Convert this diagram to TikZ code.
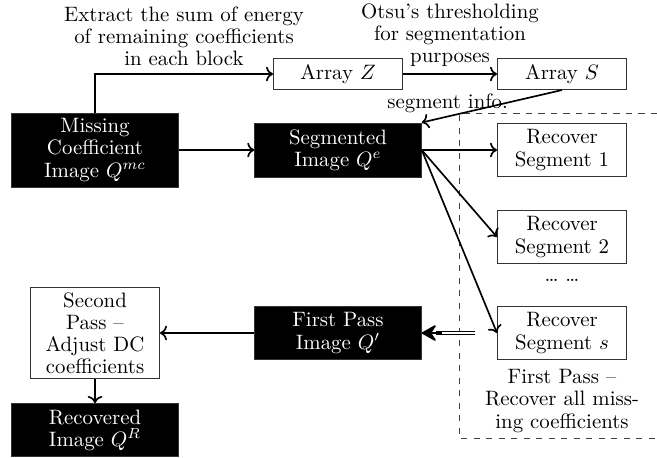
\documentclass[tikz,border=0pt]{standalone}
\usepackage{amsmath,amssymb}
\usepackage{tikz}
\usetikzlibrary{arrows.meta, positioning, calc}

\begin{document}
\begin{tikzpicture}[x=0.48pt, y=-0.48pt,
    font=\fontsize{10}{10.6}\selectfont,
    blackbox/.style={draw=black!80, fill=black, text=white, align=center,
                     minimum width=80pt, inner sep=2pt},
    whitebox/.style={draw=black!80, fill=white, align=center,
                     minimum width=62pt, inner sep=2pt},
    flow/.style={thick, ->},
    note/.style={align=center}]
\useasboundingbox (0,0) rectangle (657,457);

\node[blackbox, minimum height=35.5pt] (missing) at (95,150) {Missing\\Coefficient\\Image $Q^{mc}$};
\node[blackbox, minimum height=26pt] (seg) at (338,150) {Segmented\\Image $Q^{e}$};
\node[whitebox, minimum height=15pt] (arrz) at (338,74) {Array $Z$};
\node[whitebox, minimum height=15pt] (arrs) at (562,74) {Array $S$};
\node[whitebox, minimum height=25.5pt] (rec1) at (562,150) {Recover\\Segment 1};
\node[whitebox, minimum height=25.5pt] (rec2) at (562,237) {Recover\\Segment 2};
\node (dots) at (562,280) {\ldots\ \ldots};
\node[whitebox, minimum height=25.5pt] (recs) at (562,333) {Recover\\Segment $s$};
\node[note] (firstnote) at (562,401) {First Pass --\\Recover all miss-\\ing coefficients};
\node[blackbox, minimum height=25.5pt] (first) at (338,333) {First Pass\\Image $Q'$};
\node[whitebox, minimum height=44pt] (second) at (95,333) {Second\\Pass --\\Adjust DC\\coefficients};
\node[blackbox, minimum height=25.5pt] (final) at (95,430) {Recovered\\Image $Q^{R}$};
\coordinate (merge) at (475,333);
\coordinate (tipback) at ($(first.east)+(20,0)$);

\draw[dashed, black!75] (657,113) -- (459,113) -- (459,438) -- (657,438);

\draw[flow] (missing.north) |- node[note, pos=0.75, above] {Extract the sum of energy\\of remaining coefficients\\in each block} (arrz.west);
\draw[flow] (arrz) -- node[note, above] {Otsu's thresholding\\for segmentation\\purposes} (arrs);
\draw[flow] (arrs.south) -- node[pos=0.33, left, yshift=-1pt] {segment info.} (seg.north east);
\draw[flow] (missing) -- (seg);
\draw[flow] (seg.east) -- (rec1.west);
\draw[flow] (seg.east) -- (rec2.west);
\draw[flow] (seg.east) -- (recs.west);
\draw[double, thick, shorten >=7pt] (merge) -- (first.east);
\draw[thick, -{Stealth[round, length=8pt, width=9pt, inset=3pt]}] (tipback) -- (first.east);
\draw[flow] (first) -- (second);
\draw[flow] (second) -- (final);
\end{tikzpicture}
\end{document}
